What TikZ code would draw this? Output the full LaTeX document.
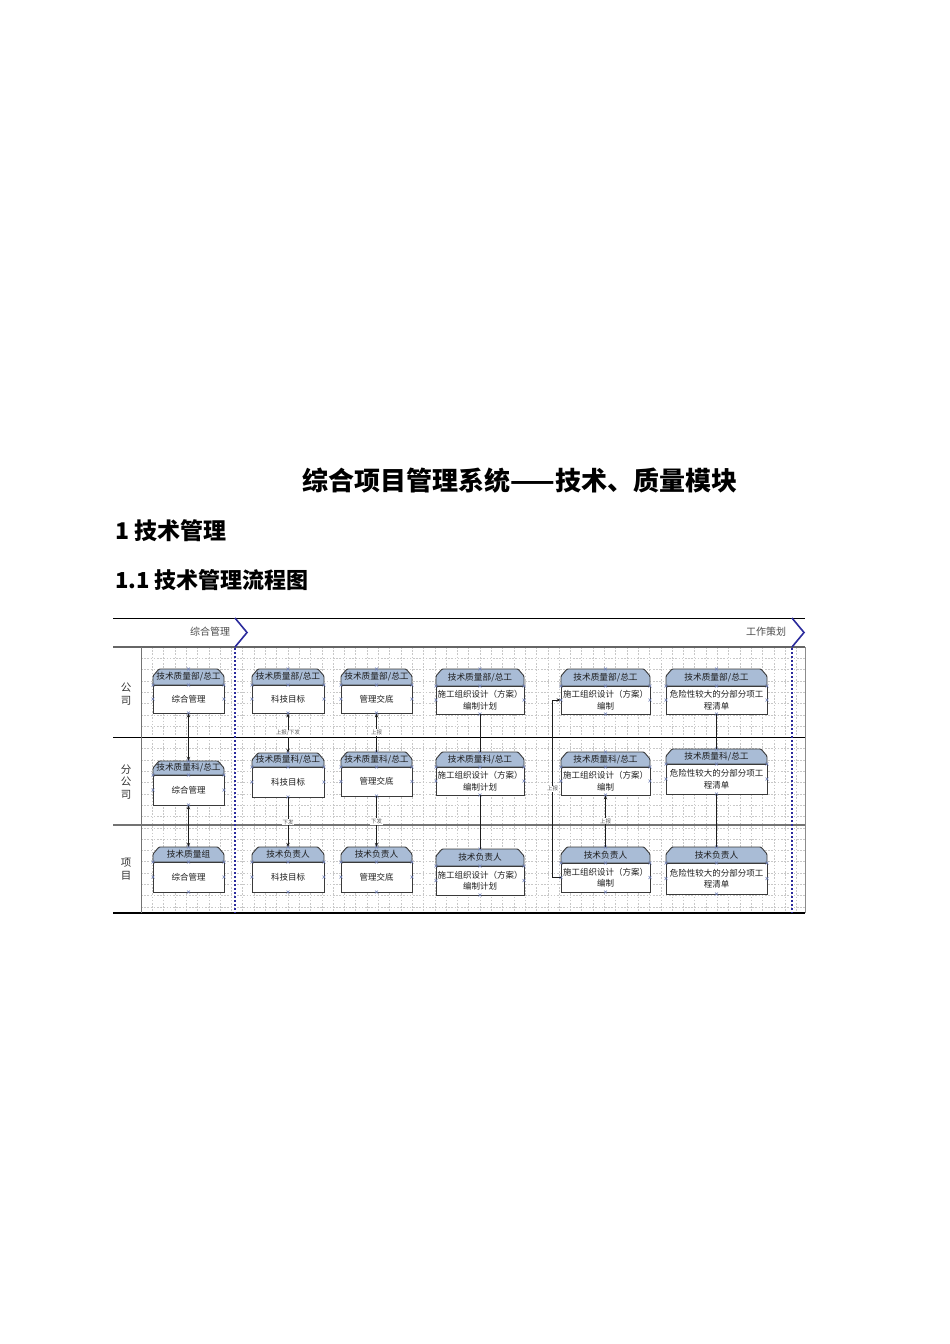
\documentclass[tikz,border=0pt]{standalone}
\usepackage{fontspec}
\setmainfont{Noto Sans CJK SC}
\usetikzlibrary{arrows.meta}
\definecolor{hdrblue}{HTML}{A9BCD6}
\definecolor{laneblue}{HTML}{2B2B9C}
\definecolor{boxline}{HTML}{3A3A3A}
\definecolor{txt}{HTML}{1E1E1E}
\definecolor{mkblue}{HTML}{7383B8}
\definecolor{gridc}{HTML}{C8C8C8}
\newcommand\tbox[8]{%
  \pgfmathsetmacro\bxm{(#2+#3)/2}%
  \pgfmathsetmacro\bym{(#5+#6)/2}%
  \pgfmathsetmacro\bhm{(#4+#5)/2}%
  \pgfmathsetmacro\bw{#3-#2}%
  \pgfmathsetmacro\bh{#6-#5}%
  \pgfmathsetmacro\hh{#5-#4}%
  \filldraw[hdr] (#2,#5) -- (#2,#4+7) -- (#2+6,#4) -- (#3-6,#4) -- (#3,#4+7) -- (#3,#5) -- cycle;
  \node[hdrtext, minimum width=\bw, minimum height=\hh] (#1h) at (\bxm,\bhm) {#7};
  \node[bodybox, minimum width=\bw, minimum height=\bh] (#1) at (\bxm,\bym) {#8};
  \foreach \mx/\my in {\bxm/#4, #2/#5, \bxm/#5, #3/#5, #2/\bym, #3/\bym, \bxm/#6}{%
    \draw[mk] (\mx-1.5,\my-1.5) -- (\mx+1.5,\my+1.5) (\mx-1.5,\my+1.5) -- (\mx+1.5,\my-1.5);}%
}
\begin{document}
\begin{tikzpicture}[x=1pt,y=-1pt,
  hdr/.style={fill=hdrblue, draw=boxline, line width=0.9pt, rounded corners=1pt},
  hdrtext/.style={inner sep=0pt, text=txt, font=\fontsize{8.7}{10}\selectfont},
  bodybox/.style={draw=boxline, fill=white, line width=0.9pt, inner sep=0pt, align=center, text=txt, font=\fontsize{8.5}{11.5}\selectfont},
  mk/.style={draw=mkblue, line width=0.45pt},
  gridl/.style={draw=gridc, line width=0.5pt, dash pattern=on 1.6pt off 1.6pt},
  ln/.style={draw=txt, line width=0.7pt},
  arr/.style={ln, -{Stealth[length=4pt,width=3.4pt]}},
  dbl/.style={ln, {Stealth[length=4pt,width=3.4pt]}-{Stealth[length=4pt,width=3.4pt]}},
  lbl/.style={fill=white, inner sep=0.6pt, text=black!65, font=\fontsize{5.5}{6}\selectfont},
  lane/.style={text=black!80, align=center, font=\fontsize{10.5}{12.5}\selectfont},
  phase/.style={text=black!70, font=\fontsize{10}{12}\selectfont},
  chev/.style={draw=laneblue, line width=1.6pt},
  sep/.style={draw=laneblue, line width=1.6pt, dash pattern=on 2.4pt off 1.6pt}
]
\useasboundingbox (0,0) rectangle (950,1344);
\fill[white] (0,0) rectangle (950,1344);

% headings
\node[font=\fontsize{26}{30}\selectfont\bfseries] (title) at (520,481) {综合项目管理系统——技术、质量模块};
\node[anchor=west, font=\fontsize{23}{28}\selectfont\bfseries, inner sep=0pt] (sec1) at (115,531) {1 技术管理};
\node[anchor=west, font=\fontsize{22}{28}\selectfont\bfseries, inner sep=0pt] (sec11) at (115,580) {1.1 技术管理流程图};

% grid
\foreach \i in {0,...,58} {\draw[gridl] ({141+11.3*\i},647) -- ({141+11.3*\i},913);}
\foreach \j in {1,...,23} {\draw[gridl] (141,{647+11.3*\j}) -- (805,{647+11.3*\j});}

% frame and lanes
\draw[black, line width=0.9pt] (113,618) -- (805,618);
\draw[black!60, line width=1.3pt] (113,647) -- (805,647);
\draw[black, line width=0.9pt] (113,737) -- (805,737);
\draw[black!55, line width=1.6pt] (113,825) -- (805,825);
\draw[black, line width=1.1pt] (113,913) -- (805,913);
\draw[black!55, line width=0.8pt] (141,647) -- (141,913);
\draw[black!45, line width=0.6pt] (805,647) -- (805,913);

% phases
\node[phase] (ph1) at (210,632) {综合管理};
\node[phase] (ph2) at (766,632) {工作策划};
\draw[chev] (235,618) -- (247,632.5) -- (235,647);
\draw[chev] (792,618) -- (804,632.5) -- (792,647);
\draw[sep] (235,648) -- (235,913);
\draw[sep] (792,648) -- (792,913);

% lane labels
\node[lane] (l1) at (126,694) {公\\司};
\node[lane] (l2) at (126,782) {分\\公\\司};
\node[lane] (l3) at (126,869) {项\\目};

% boxes row 1
\tbox{a1}{153}{224}{669}{685}{713}{技术质量部/总工}{综合管理}
\tbox{b1}{252}{324}{669}{685}{713}{技术质量部/总工}{科技目标}
\tbox{c1}{341}{412}{669}{685}{713}{技术质量部/总工}{管理交底}
\tbox{d1}{436}{524}{669}{686}{714}{技术质量部/总工}{施工组织设计（方案）\\编制计划}
\tbox{e1}{561}{650}{669}{686}{714}{技术质量部/总工}{施工组织设计（方案）\\编制}
\tbox{f1}{666}{767}{669}{686}{714}{技术质量部/总工}{危险性较大的分部分项工\\程清单}
% row 2
\tbox{a2}{153}{224}{761}{775}{805}{技术质量科/总工}{综合管理}
\tbox{b2}{252}{324}{753}{767}{797}{技术质量科/总工}{科技目标}
\tbox{c2}{341}{412}{752}{767}{796}{技术质量科/总工}{管理交底}
\tbox{d2}{436}{524}{752}{767}{795}{技术质量科/总工}{施工组织设计（方案）\\编制计划}
\tbox{e2}{561}{650}{752}{767}{795}{技术质量科/总工}{施工组织设计（方案）\\编制}
\tbox{f2}{666}{767}{749}{764}{794}{技术质量科/总工}{危险性较大的分部分项工\\程清单}
% row 3
\tbox{a3}{153}{224}{847}{862}{892}{技术质量组}{综合管理}
\tbox{b3}{252}{324}{847}{862}{892}{技术负责人}{科技目标}
\tbox{c3}{341}{412}{847}{862}{892}{技术负责人}{管理交底}
\tbox{d3}{436}{524}{849}{866}{895}{技术负责人}{施工组织设计（方案）\\编制计划}
\tbox{e3}{561}{650}{847}{863}{892}{技术负责人}{施工组织设计（方案）\\编制}
\tbox{f3}{666}{767}{847}{863}{894}{技术负责人}{危险性较大的分部分项工\\程清单}

% connectors
\draw[dbl] (a1.south) -- (a2h.north);
\draw[dbl] (a2.south) -- (a3h.north);
\draw[dbl] (b1.south) -- node[lbl]{上报/下发} (b2h.north);
\draw[arr] (b2.south) -- node[lbl]{下发} (b3h.north);
\draw[arr] (c2h.north) -- node[lbl]{上报} (c1.south);
\draw[arr] (c2.south) -- node[lbl]{下发} (c3h.north);
\draw[ln] (d1.south) -- (d2h.north);
\draw[ln] (d2.south) -- (d3h.north);
\draw[arr] (e3h.north) -- node[lbl]{上报} (e2.south);
\draw[arr] (e3.west) -- ++(-8,0) |- node[lbl,pos=0.25]{上报} (e1.west);
\draw[ln] (f1.south) -- (f2h.north);
\draw[ln] (f2.south) -- (f3h.north);
\end{tikzpicture}
\end{document}
